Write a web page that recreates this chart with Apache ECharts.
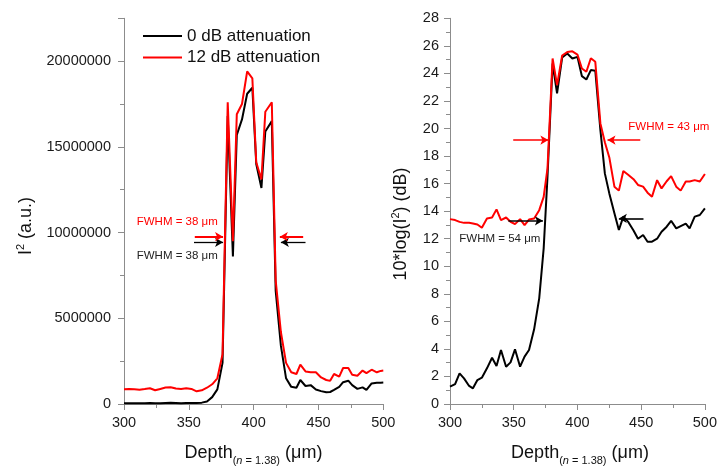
<!DOCTYPE html>
<html>
<head>
<meta charset="utf-8">
<script src="https://cdn.jsdelivr.net/npm/echarts@6/dist/echarts.min.js"></script>
<style>
html, body { margin: 0; padding: 0; background: #fff; }
#chart { width: 720px; height: 466px; }
</style>
</head>
<body>
<div id="chart"></div>
<script>
// left panel, I^2 in units of 1e6 (a.u.)
var depthL = [300, 304, 308, 312, 316, 320, 324, 328, 332, 336, 340, 344, 348, 352, 356, 360, 364, 368, 372, 376,
  380, 384, 387, 391, 395, 399, 402, 406, 409, 414, 417, 421, 425, 429, 433, 436, 440, 444, 448, 452,
  456, 459, 462, 466, 469, 473, 476, 480, 484, 487, 491, 495, 498, 500];
var blackL = [0.05, 0.05, 0.04, 0.05, 0.05, 0.06, 0.05, 0.05, 0.06, 0.07, 0.06, 0.05, 0.06, 0.06, 0.06, 0.08, 0.15, 0.4, 0.85, 2.4,
  16.8, 8.6, 15.7, 16.6, 18.1, 18.45, 14.0, 12.6, 15.9, 16.5, 6.6, 3.4, 1.5, 1.0, 0.95, 1.4, 1.05, 1.1, 0.85, 0.75,
  0.68, 0.7, 0.82, 1.0, 1.27, 1.36, 1.1, 0.88, 0.97, 0.82, 1.2, 1.24, 1.24, 1.25];
var redL = [0.86, 0.88, 0.86, 0.83, 0.87, 0.92, 0.8, 0.88, 0.96, 0.98, 0.9, 0.88, 0.92, 0.88, 0.74, 0.8, 0.95, 1.15, 1.5, 2.9,
  17.6, 9.5, 16.9, 17.5, 19.4, 19.0, 14.1, 13.1, 17.05, 17.6, 7.2, 4.2, 2.4, 1.85, 1.75, 2.3, 1.9, 1.85, 1.85, 1.55,
  1.4, 1.35, 1.75, 1.6, 2.1, 2.1, 1.7, 1.65, 1.95, 1.8, 2.0, 1.85, 1.93, 1.95];

// right panel, 10*log(I^2) in dB
var depthR = [300, 304, 307.5, 311, 315, 318, 321.5, 325, 329, 333, 336.5, 340, 344, 347.5, 351, 355, 358.5, 362, 366, 370,
  373.5, 376.5, 380.5, 384, 388, 392, 396, 400, 403.5, 407, 410.5, 414, 418, 421.5, 425, 429, 432.5, 436, 440, 444,
  447.5, 451.5, 455, 458.5, 462.5, 466, 470, 473.5, 477.5, 481, 485, 488, 492, 496, 500];
var blackR = [1.26, 1.45, 2.22, 1.86, 1.31, 1.14, 1.74, 1.91, 2.59, 3.36, 2.76, 3.92, 2.71, 3.02, 3.97, 2.71, 3.44, 3.92, 5.42, 7.67,
  11.3, 16.5, 24.72, 22.55, 25.15, 25.44, 25.08, 25.2, 23.8, 23.56, 24.24, 24.19, 19.88, 16.74, 15.29, 13.84, 12.63, 13.6, 13.2, 12.6,
  12.0, 12.27, 11.78, 11.78, 12.0, 12.5, 12.87, 13.3, 12.75, 12.92, 13.1, 12.75, 13.6, 13.72, 14.2];
var redR = [13.42, 13.35, 13.22, 13.15, 13.15, 13.1, 13.03, 12.79, 13.47, 13.54, 14.13, 13.35, 13.54, 13.23, 13.06, 13.42, 12.98, 13.39, 13.47, 14.07,
  15.04, 17.1, 25.08, 23.15, 25.3, 25.55, 25.6, 25.37, 24.36, 24.12, 25.1, 24.84, 20.37, 19.0, 17.9, 15.78, 15.49, 16.92, 16.63, 16.32,
  15.9, 15.78, 15.34, 15.04, 16.25, 15.65, 16.17, 16.54, 15.78, 15.49, 16.15, 16.15, 16.25, 16.15, 16.7];

var seriesNames = ["0 dB attenuation", "12 dB attenuation"];

// FWHM arrows: [y, xFrom, xTo] (arrow head at xTo)
var arrowsLRed = [[9.76, 354.6, 376.4], [9.76, 438.2, 420.2]];
var arrowsLBlack = [[9.43, 354, 376.4], [9.43, 440, 421]];
var arrowsRRed = [[19.16, 349.6, 377.2], [19.16, 449.3, 423.6]];
var arrowsRBlack = [[13.3, 345.8, 372.9], [13.47, 451.8, 432.5]];

var FONT = "'Liberation Sans', Arial, sans-serif";
var AXIS_GRAY = "#8c8c8c";

function pairs(xs, ys, k) {
  return xs.map(function (x, i) { return [x, ys[i] * k]; });
}

function arrowLines(list, k) {
  return list.map(function (a) {
    return [{ coord: [a[1], a[0] * k] }, { coord: [a[2], a[0] * k] }];
  });
}

function xAxisCfg(grid) {
  return {
    type: "value",
    gridIndex: grid,
    min: 300,
    max: 500,
    interval: 50,
    axisLine: { lineStyle: { color: AXIS_GRAY, width: 1 } },
    axisTick: { length: 6, lineStyle: { color: AXIS_GRAY } },
    minorTick: { show: true, splitNumber: 2, length: 4, lineStyle: { color: AXIS_GRAY } },
    splitLine: { show: false },
    axisLabel: { color: "#1a1a1a", fontSize: 14.5, fontFamily: FONT, margin: 11 }
  };
}

function lineSeries(name, color, xi, data, arrows, k, arrowWidth) {
  return {
    name: name,
    type: "line",
    xAxisIndex: xi,
    yAxisIndex: xi,
    data: data,
    symbol: "none",
    lineStyle: { color: color, width: 2 },
    itemStyle: { color: color },
    emphasis: { disabled: true },
    markLine: {
      silent: true,
      symbol: ["none", "arrow"],
      symbolSize: [7, 8],
      label: { show: false },
      lineStyle: { color: color, width: arrowWidth, type: "solid" },
      data: arrowLines(arrows, k)
    }
  };
}

var chart = echarts.init(document.getElementById("chart"));

var option = {
  animation: false,
  grid: [
    { left: 124, top: 18.3, width: 259.3, height: 385.7 },
    { left: 450, top: 18.3, width: 259, height: 385.7 }
  ],
  legend: {
    data: seriesNames,
    orient: "vertical",
    left: 138,
    top: 22,
    icon: "rect",
    itemWidth: 39,
    itemHeight: 2,
    itemGap: 3.5,
    selectedMode: false,
    textStyle: { fontSize: 17, color: "#111", fontFamily: FONT, lineHeight: 18 }
  },
  xAxis: [xAxisCfg(0), xAxisCfg(1)],
  yAxis: [
    {
      type: "value",
      gridIndex: 0,
      min: 0,
      max: 22500000,
      interval: 5000000,
      axisLine: { show: true, lineStyle: { color: AXIS_GRAY, width: 1 } },
      axisTick: { show: true, length: 6, lineStyle: { color: AXIS_GRAY } },
      minorTick: { show: true, splitNumber: 2, length: 4, lineStyle: { color: AXIS_GRAY } },
      splitLine: { show: false },
      axisLabel: {
        color: "#1a1a1a", fontSize: 14.5, fontFamily: FONT, margin: 13, showMaxLabel: false,
        formatter: function (v) { return String(v); }
      }
    },
    {
      type: "value",
      gridIndex: 1,
      min: 0,
      max: 28,
      interval: 2,
      axisLine: { show: true, lineStyle: { color: AXIS_GRAY, width: 1 } },
      axisTick: { show: true, length: 6, lineStyle: { color: AXIS_GRAY } },
      minorTick: { show: true, splitNumber: 2, length: 4, lineStyle: { color: AXIS_GRAY } },
      splitLine: { show: false },
      axisLabel: { color: "#1a1a1a", fontSize: 14.5, fontFamily: FONT, margin: 11 }
    }
  ],
  series: [
    lineSeries(seriesNames[0], "#000000", 0, pairs(depthL, blackL, 1e6), arrowsLBlack, 1e6, 1.3),
    lineSeries(seriesNames[0], "#000000", 1, pairs(depthR, blackR, 1), arrowsRBlack, 1, 1.6),
    lineSeries(seriesNames[1], "#ff0000", 0, pairs(depthL, redL, 1e6), arrowsLRed, 1e6, 2),
    lineSeries(seriesNames[1], "#ff0000", 1, pairs(depthR, redR, 1), arrowsRRed, 1, 1.6)
  ],
  graphic: [
    {
      type: "text", x: 26, y: 226, rotation: Math.PI / 2,
      style: {
        text: "{a|I}{s|2}{a| (a.u.)}", align: "center", verticalAlign: "middle", fill: "#111",
        rich: {
          a: { fontSize: 18, fontFamily: FONT, fill: "#111", lineHeight: 22, verticalAlign: "middle" },
          s: { fontSize: 11, fontFamily: FONT, fill: "#111", lineHeight: 11, verticalAlign: "top" }
        }
      }
    },
    {
      type: "text", x: 401, y: 224, rotation: Math.PI / 2,
      style: {
        text: "{a|10*log(I}{s|2}{a|) (dB)}", align: "center", verticalAlign: "middle", fill: "#111",
        rich: {
          a: { fontSize: 18, fontFamily: FONT, fill: "#111", lineHeight: 22, verticalAlign: "middle" },
          s: { fontSize: 11, fontFamily: FONT, fill: "#111", lineHeight: 11, verticalAlign: "top" }
        }
      }
    },
    {
      type: "text", x: 253.5, y: 453,
      style: {
        text: "{a|Depth}{s|(}{i|n}{s| = 1.38)}{a| (μm)}", align: "center", verticalAlign: "middle", fill: "#111",
        rich: {
          a: { fontSize: 18, fontFamily: FONT, fill: "#111", lineHeight: 26, verticalAlign: "middle" },
          s: { fontSize: 11, fontFamily: FONT, fill: "#111", lineHeight: 11, verticalAlign: "bottom" },
          i: { fontSize: 11, fontFamily: FONT, fill: "#111", lineHeight: 11, verticalAlign: "bottom", fontStyle: "italic" }
        }
      }
    },
    {
      type: "text", x: 580, y: 453,
      style: {
        text: "{a|Depth}{s|(}{i|n}{s| = 1.38)}{a| (μm)}", align: "center", verticalAlign: "middle", fill: "#111",
        rich: {
          a: { fontSize: 18, fontFamily: FONT, fill: "#111", lineHeight: 26, verticalAlign: "middle" },
          s: { fontSize: 11, fontFamily: FONT, fill: "#111", lineHeight: 11, verticalAlign: "bottom" },
          i: { fontSize: 11, fontFamily: FONT, fill: "#111", lineHeight: 11, verticalAlign: "bottom", fontStyle: "italic" }
        }
      }
    },
    { type: "text", x: 136.7, y: 221.7, style: { text: "FWHM = 38 μm", font: "11.5px " + FONT, fill: "#ff0000", align: "left", verticalAlign: "middle" } },
    { type: "text", x: 136.7, y: 256, style: { text: "FWHM = 38 μm", font: "11.5px " + FONT, fill: "#222", align: "left", verticalAlign: "middle" } },
    { type: "text", x: 628.3, y: 126.7, style: { text: "FWHM = 43 μm", font: "11.5px " + FONT, fill: "#ff0000", align: "left", verticalAlign: "middle" } },
    { type: "text", x: 459.3, y: 239.3, style: { text: "FWHM = 54 μm", font: "11.5px " + FONT, fill: "#222", align: "left", verticalAlign: "middle" } }
  ]
};

chart.setOption(option);
</script>
</body>
</html>
